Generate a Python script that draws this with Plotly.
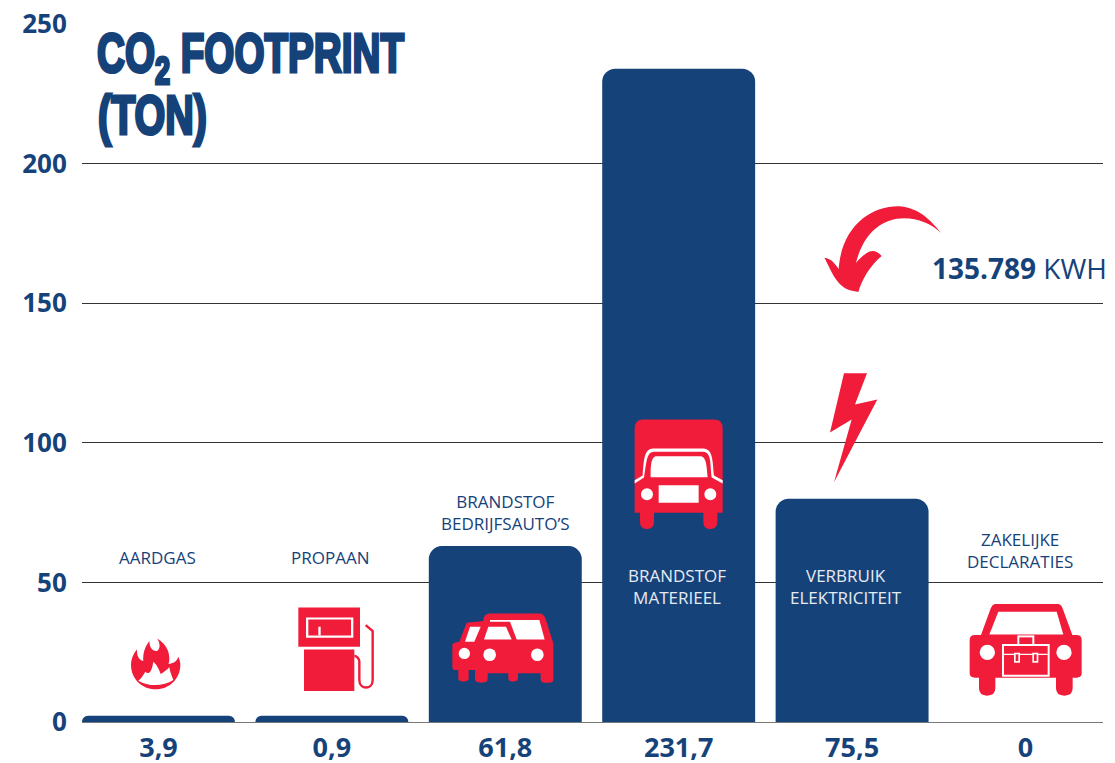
import re
import plotly.graph_objects as go

W, H = 1115, 763
L, R, T, B = 82, 1103, 23.5, 722
BODY = 8  # default page margin around the figure

NAVY = "#16427a"
RED = "#f01c3a"
FONT = "Open Sans"

categories = ["AARDGAS", "PROPAAN", "BRANDSTOF BEDRIJFSAUTO'S", "BRANDSTOF MATERIEEL",
              "VERBRUIK ELEKTRICITEIT", "ZAKELIJKE DECLARATIES"]
bar_heights = [2.2, 2.2, 63, 234, 80, 0]
value_labels = ["3,9", "0,9", "61,8", "231,7", "75,5", "0"]
y_ticks = [0, 50, 100, 150, 200, 250]


def px(x, y):
    return (x - L) / (R - L), (B - y) / (B - T)


def path(d, ox=0, oy=0):
    toks = re.findall(r"[MLCQZ]|-?\d+\.?\d*", d)
    out, nums = [], []
    for t in toks:
        if t in "MLCQZ":
            out.append(t)
        else:
            nums.append(float(t))
            if len(nums) == 2:
                a, b = px(ox + nums[0] / 3, oy + nums[1] / 3)
                out.append(f"{a:.5f},{b:.5f}")
                nums = []
    return " ".join(out)


shapes = []


def fill(d, color, ox, oy):
    shapes.append(dict(type="path", xref="paper", yref="paper", path=path(d, ox, oy),
                       fillcolor=color, line=dict(width=0)))


def stroke(d, color, w, ox, oy):
    shapes.append(dict(type="path", xref="paper", yref="paper", path=path(d, ox, oy),
                       line=dict(color=color, width=w)))


def rect(x0, y0, x1, y1, color, ox, oy):
    fill(f"M {x0} {y0} L {x1} {y0} L {x1} {y1} L {x0} {y1} Z", color, ox, oy)


def circ(cx, cy, r, color, ox, oy):
    a, b = px(ox + (cx - r) / 3, oy + (cy - r) / 3)
    c, d = px(ox + (cx + r) / 3, oy + (cy + r) / 3)
    shapes.append(dict(type="circle", xref="paper", yref="paper", x0=a, y0=b, x1=c, y1=d,
                       fillcolor=color, line=dict(width=0)))


# flame and pump
O = (70, 590)
fill("M 257 298 C 215 298 183 265 183 225 C 183 208 190 190 201 178 C 200 195 205 208 220 213 "
     "C 218 190 225 170 238 153 C 238 175 250 185 262 182 C 272 175 270 158 262 145 "
     "C 285 160 298 180 298 205 C 298 212 297 220 295 222 C 310 220 320 215 325 200 "
     "C 330 210 331 220 331 225 C 331 265 299 298 257 298 Z", RED, *O)
fill("M 205 272 C 218 262 222 250 226 245 C 235 255 245 248 250 215 C 262 225 268 240 272 252 "
     "C 280 248 290 240 298 232 C 300 245 305 258 310 270 C 280 290 235 290 205 272 Z", "white", *O)
rect(685, 52, 870, 170, RED, *O)
rect(708, 82, 850, 143, "white", *O)
rect(715, 88, 843, 136, RED, *O)
rect(745, 110, 752, 136, "white", *O)
rect(702, 178, 853, 303, RED, *O)
stroke("M 887 105 L 908 123 L 908 270 C 908 300 868 300 868 270 L 868 215 C 868 205 860 198 853 198",
       RED, 2.4, *O)

# two cars and truck
O = (420, 400)
fill("M 97 735 Q 97 727 118 725 L 140 668 L 190 663 Q 190 640 210 640 L 360 640 Q 372 640 378 660 "
     "L 400 730 L 400 838 Q 400 848 390 848 L 372 848 Q 362 848 362 835 L 362 820 L 294 820 L 294 835 "
     "Q 294 845 278 845 Q 265 845 265 835 L 265 820 L 203 820 L 203 838 Q 203 848 185 848 "
     "Q 165 848 165 838 L 165 810 L 146 810 L 146 835 Q 146 845 130 845 Q 115 845 115 835 L 115 810 "
     "L 105 810 Q 97 810 97 800 Z", RED, *O)
fill("M 150 680 L 182 680 L 163 725 L 135 725 Z", "white", *O)
fill("M 205 680 L 258 680 L 275 718 L 192 718 Z", "white", *O)
fill("M 210 660 L 358 660 L 374 718 L 290 718 L 270 665 L 210 665 Z", "white", *O)
circ(133, 760, 17, "white", *O)
circ(209, 764, 19, "white", *O)
circ(352, 764, 19, "white", *O)

fill("M 644 85 Q 644 58 670 58 L 882 58 Q 908 58 908 85 L 908 338 L 892 338 L 892 365 Q 892 387 870 387 "
     "Q 850 387 850 365 L 850 338 L 702 338 L 702 365 Q 702 387 680 387 Q 660 387 660 365 L 660 338 "
     "L 644 338 Z", RED, *O)
fill("M 644 240 L 668 226 C 672 180 672 145 700 145 L 850 145 C 880 145 878 190 882 226 L 908 240 "
     "L 908 250 L 875 232 C 870 190 875 155 848 155 L 702 155 C 678 155 680 190 672 232 L 644 250 Z",
     "white", *O)
fill("M 692 231 C 692 200 692 168 710 168 L 840 168 C 860 168 860 200 863 231 Z", "white", *O)
rect(716, 255, 836, 308, "white", *O)
circ(681, 282, 18, "white", *O)
circ(871, 282, 18, "white", *O)

# arrow and bolt
O = (770, 190)
fill("M 513 128 C 490 100 450 50 385 48 C 300 48 215 110 206 236 C 195 220 185 205 163 202 "
     "C 180 230 195 285 240 300 L 265 305 C 275 270 300 225 335 197 C 320 180 305 178 290 188 "
     "C 280 195 268 205 258 218 C 270 170 300 100 380 85 C 430 78 480 95 513 128 Z", RED, *O)
fill("M 222 549 L 291 549 L 255 643 L 322 628 L 192 876 L 245 688 L 180 727 Z", RED, *O)

# car with briefcase
O = (900, 510)
fill("M 284 282 L 475 282 Q 484 284 488 295 L 517 375 L 530 375 Q 545 375 545 390 L 545 490 "
     "Q 545 503 530 503 L 518 503 L 518 535 Q 518 557 493 557 Q 468 557 468 535 L 468 503 L 286 503 "
     "L 286 535 Q 286 557 261 557 Q 237 557 237 535 L 237 503 L 225 503 Q 209 503 209 490 L 209 390 "
     "Q 209 375 225 375 L 243 375 L 272 295 Q 276 284 284 282 Z", RED, *O)
fill("M 295 305 L 470 305 L 490 373 L 268 373 Z", "white", *O)
circ(262, 427, 23, "white", *O)
circ(492, 427, 23, "white", *O)
rect(352, 376, 403, 402, "white", *O)
rect(358, 382, 397, 402, RED, *O)
rect(306, 402, 449, 500, "white", *O)
rect(312, 408, 443, 494, RED, *O)
rect(312, 431, 443, 435, "white", *O)
for x in (342, 397):
    rect(x, 428, x + 18, 458, "white", *O)
    rect(x + 5, 433, x + 13, 453, RED, *O)


def text(x, y, s, size=17, color=NAVY, family=FONT, anchor="center", **kw):
    a, b = px(x, y)
    return dict(xref="paper", yref="paper", x=a, y=b, text=s, showarrow=False, xanchor=anchor,
                yanchor="middle", font=dict(size=size, color=color, family=family), align="center", **kw)


TITLE_FONT = "Liberation Sans"
annotations = [
    text(157, 557, "AARDGAS"),
    text(330, 557, "PROPAAN"),
    text(505, 512, "BRANDSTOF<br>BEDRIJFSAUTO’S"),
    text(677, 586, "BRANDSTOF<br>MATERIEEL", color="#e6ebf2"),
    text(846, 586, "VERBRUIK<br>ELEKTRICITEIT", color="#e6ebf2"),
    text(1020, 550, "ZAKELIJKE<br>DECLARATIES"),
    text(930, 268, "<b>135.789</b> KWH", size=28, anchor="left"),
    text(95, 56, "<b>CO<sub>2</sub> FOOTPRINT</b>", size=56, family=TITLE_FONT, anchor="left"),
    text(96, 114, "<b>(TON)</b>", size=56, family=TITLE_FONT, anchor="left"),
]

fig = go.Figure(go.Bar(x=list(range(len(categories))), y=bar_heights, width=0.882,
                       marker=dict(color=NAVY, line=dict(width=0), cornerradius=13),
                       customdata=categories, hovertemplate="%{customdata}<extra></extra>"))
fig.update_layout(
    width=W - BODY, height=H - BODY, autosize=False, showlegend=False,
    paper_bgcolor="white", plot_bgcolor="white",
    margin=dict(l=L - BODY, r=W - R, t=T - BODY, b=H - B, pad=0, autoexpand=False),
    shapes=shapes, annotations=annotations,
    xaxis=dict(range=[-0.441, 5.447], tickvals=list(range(len(categories))), ticktext=value_labels,
               automargin=False, ticklabeloverflow="allow",
               showgrid=False, zeroline=False, showline=True, linecolor="#777777", linewidth=1,
               layer="below traces", ticks="outside", ticklen=2, tickcolor="rgba(0,0,0,0)",
               tickfont=dict(family=FONT, size=27, color=NAVY, weight="bold")),
    yaxis=dict(range=[0, 250], tickvals=y_ticks, showgrid=True, gridcolor="#333333", gridwidth=1,
               automargin=False, ticklabeloverflow="allow",
               zeroline=False, showline=False, ticks="outside", ticklen=9, tickcolor="rgba(0,0,0,0)",
               tickfont=dict(family=FONT, size=26, color=NAVY, weight="bold")),
)

# The heavy condensed poster face of the title is not installed: squeeze the real text to its width.
squeeze = """
var targets = {'FOOTPRINT': 307, '(TON)': 109};
function squeeze() {
  document.querySelectorAll('.annotation-text').forEach(function (t) {
    for (var k in targets) {
      if (t.textContent.indexOf(k) >= 0 && !t.dataset.sq) {
        var b = t.getBBox(), s = targets[k] / b.width;
        t.setAttribute('transform', 'translate(' + b.x + ' 0) scale(' + s + ' 1) translate(' + (-b.x) + ' 0)');
        t.style.stroke = '#16427a'; t.style.strokeWidth = '3.2px';
        t.dataset.sq = '1';
      }
    }
  });
}
squeeze(); setTimeout(squeeze, 50);
"""
fig.write_html("out.html", post_script=squeeze)
